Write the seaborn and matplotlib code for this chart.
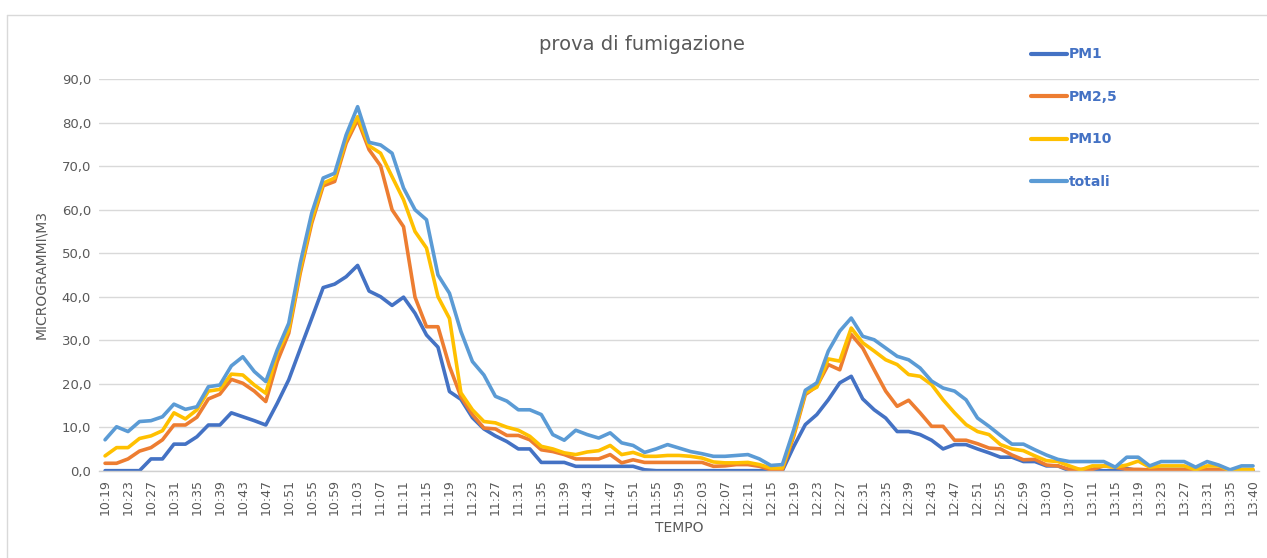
import matplotlib
matplotlib.use("Agg")
import matplotlib.pyplot as plt
import seaborn as sns
import pandas as pd
from matplotlib.lines import Line2D

# ---- data ----
times = [f"{(10*60+19+2*k)//60:02d}:{(10*60+19+2*k)%60:02d}" for k in range(99)] + ["13:38", "13:40"]

pm1 = [0, 0, 0, 0, 2.7, 2.7, 6.1, 6.1, 7.8, 10.5,
       10.5, 13.3, 12.4, 11.5, 10.5, 15.5, 20.9, 28.0, 35.0, 42.1,
       42.9, 44.6, 47.2, 41.3, 40.0, 38.0, 39.9, 36.2, 31.2, 28.4,
       18.2, 16.4, 12.2, 9.6, 8.0, 6.7, 5.0, 5.0, 1.9, 1.9,
       1.9, 1.0, 1.0, 1.0, 1.0, 1.0, 1.0, 0.2, 0, 0,
       0, 0, 0, 0, 0, 0, 0, 0, 0, 0,
       5.6, 10.6, 12.9, 16.3, 20.2, 21.7, 16.5, 14.0, 12.1, 9.0,
       9.0, 8.3, 7.0, 5.0, 6.0, 6.0, 5.0, 4.1, 3.1, 3.1,
       2.1, 2.1, 1.1, 1.1, 0, 0, 0, 0, 0, 0.5,
       0, 0, 0.3, 0.3, 0.3, 0, 0, 0, 0, 0,
       0]

pm25 = [1.7, 1.7, 2.7, 4.5, 5.3, 7.1, 10.5, 10.5, 12.3, 16.5,
        17.6, 21.0, 20.1, 18.3, 15.9, 25.1, 31.6, 45.4, 56.9, 65.5,
        66.5, 75.3, 80.7, 73.8, 70.1, 60.0, 56.1, 39.9, 33.1, 33.1,
        24.0, 17.0, 12.9, 9.8, 9.6, 8.1, 8.1, 7.1, 4.8, 4.4,
        3.7, 2.7, 2.7, 2.7, 3.7, 1.8, 2.5, 1.9, 1.9, 1.9,
        1.9, 1.9, 1.9, 1.0, 1.1, 1.4, 1.4, 1.0, 0.2, 0.2,
        8.0, 17.5, 19.4, 24.4, 23.2, 31.3, 28.2, 23.2, 18.3, 14.8,
        16.2, 13.3, 10.2, 10.2, 7.0, 7.0, 6.2, 5.2, 5.0, 3.6,
        2.5, 2.6, 1.3, 1.1, 0.3, 0.3, 0.3, 1.1, 0.8, 0.3,
        0.3, 0.2, 0.2, 0.2, 0.2, 0, 0.3, 0.3, 0, 0,
        0]

pm10 = [3.4, 5.3, 5.3, 7.4, 8.0, 9.2, 13.3, 11.9, 14.0, 18.3,
        18.7, 22.2, 22.0, 19.7, 17.8, 27.0, 32.4, 46.2, 57.7, 66.1,
        67.3, 76.1, 81.4, 74.7, 73.0, 67.6, 62.3, 55.0, 51.2, 40.0,
        35.0, 17.9, 14.0, 11.3, 11.0, 10.0, 9.3, 7.9, 5.6, 5.0,
        4.1, 3.7, 4.3, 4.6, 5.8, 3.7, 4.2, 3.3, 3.3, 3.5,
        3.5, 3.3, 2.9, 2.0, 1.8, 1.8, 1.9, 1.4, 0.6, 0.6,
        8.5, 17.9, 19.2, 25.7, 25.2, 32.8, 29.4, 27.5, 25.5, 24.4,
        22.1, 21.7, 19.8, 16.3, 13.3, 10.6, 9.0, 8.3, 6.0, 5.0,
        4.6, 3.4, 2.3, 2.1, 1.1, 0.2, 1.1, 1.1, 0.8, 1.3,
        2.2, 0.8, 1.1, 1.1, 1.1, 0.2, 1.1, 1.1, 0, 0.3,
        0.3]

totali = [7.1, 10.1, 9.0, 11.3, 11.5, 12.4, 15.3, 14.1, 14.7, 19.3,
          19.7, 24.1, 26.2, 22.8, 20.5, 27.8, 33.9, 47.7, 59.2, 67.3,
          68.4, 77.2, 83.7, 75.5, 74.9, 73.0, 65.0, 60.0, 57.7, 45.0,
          40.8, 32.0, 25.1, 22.0, 17.1, 16.0, 14.0, 14.0, 12.9, 8.3,
          7.0, 9.3, 8.3, 7.5, 8.7, 6.4, 5.8, 4.2, 5.0, 6.0,
          5.2, 4.4, 3.9, 3.3, 3.3, 3.5, 3.7, 2.7, 1.2, 1.4,
          9.5, 18.5, 20.2, 27.5, 32.1, 35.1, 30.9, 30.1, 28.2, 26.3,
          25.5, 23.6, 20.6, 19.0, 18.3, 16.3, 12.1, 10.2, 8.1, 6.1,
          6.1, 4.8, 3.6, 2.6, 2.1, 2.1, 2.1, 2.1, 0.8, 3.1,
          3.1, 1.1, 2.1, 2.1, 2.1, 0.8, 2.1, 1.3, 0.2, 1.1,
          1.1]

series_names = ["PM1", "PM2,5", "PM10", "totali"]
series_values = [pm1, pm25, pm10, totali]
colors = ["#4472C4", "#ED7D31", "#FFC000", "#5B9BD5"]

title = "prova di fumigazione"
xlabel = "TEMPO"
ylabel = "MICROGRAMMI\\M3"

# ---- build long table ----
rows = []
for name, vals in zip(series_names, series_values):
    for t, v in zip(times, vals):
        rows.append({"tempo": t, "valore": v, "serie": name})
df = pd.DataFrame(rows)

sns.set_theme(style="white")
plt.rcParams['font.family'] = ['DejaVu Sans']

fig = plt.figure(figsize=(12.67, 5.58), dpi=100)
ax = fig.add_axes([0.0784, 0.1565, 0.9151, 0.7014])

sns.lineplot(data=df, x="tempo", y="valore", hue="serie", hue_order=series_names,
             palette=colors, linewidth=2.6, sort=False, ax=ax, legend=False)

ax.set_xlim(-0.5, len(times) - 0.5)
ax.set_ylim(0, 90)
ax.set_yticks(range(0, 91, 10))
ax.set_yticklabels([f"{v},0" for v in range(0, 91, 10)], fontsize=9.5, color="#595959")
ax.set_xticks(range(0, len(times), 2))
ax.set_xticklabels(times[::2], rotation=90, fontsize=9, color="#595959")
ax.tick_params(axis="both", length=0, pad=6)
ax.grid(axis="y", color="#D9D9D9", linewidth=1)
ax.grid(axis="x", visible=False)
for s in ["left", "right", "top"]:
    ax.spines[s].set_visible(False)
ax.spines["bottom"].set_color("#D0D0D0")
ax.spines["bottom"].set_linewidth(1)
ax.set_axisbelow(True)

ax.set_xlabel(xlabel, fontsize=10, color="#595959", labelpad=4)
ax.set_ylabel(ylabel, fontsize=10, color="#595959", labelpad=10)

fig.text(642 / 1267, 1 - 44 / 558, title, ha="center", va="center", fontsize=14, color="#595959")

handles = [Line2D([0], [0], color=c, linewidth=3) for c in colors]
leg = fig.legend(handles, series_names, loc="upper left",
                 bbox_to_anchor=(1018 / 1267, 1 - 35 / 558), frameon=False,
                 handlelength=2.6, handletextpad=0.15, labelspacing=2.05,
                 prop={"size": 10, "weight": "bold"})
for t in leg.get_texts():
    t.set_color("#4472C4")

# outer chart border (left and top edges visible)
fig.add_artist(Line2D([7 / 1267, 7 / 1267], [0, 1 - 15 / 558], color="#D9D9D9", linewidth=1, transform=fig.transFigure))
fig.add_artist(Line2D([7 / 1267, 1], [1 - 15 / 558, 1 - 15 / 558], color="#D9D9D9", linewidth=1, transform=fig.transFigure))

fig.savefig("out.png", dpi=100)
